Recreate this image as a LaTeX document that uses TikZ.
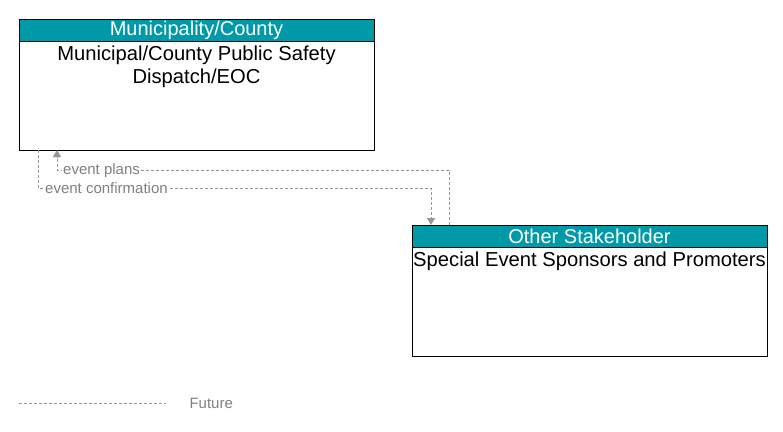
\documentclass[tikz,border=0pt]{standalone}
\usepackage{fontspec}
\setmainfont{Liberation Sans}
\usetikzlibrary{arrows.meta}

\definecolor{headteal}{RGB}{0,153,168}
\definecolor{flowgray}{RGB}{150,150,150}
\definecolor{labelgray}{RGB}{128,128,128}

\tikzset{
	elem/.style={draw=black, line width=1pt, fill=white, minimum width=355pt, minimum height=131pt, inner sep=0pt},
	head/.style={draw=black, line width=1pt, fill=headteal, text=white, minimum width=355pt, minimum height=22pt, inner sep=0pt, font=\fontsize{20}{22}\selectfont},
	body/.style={align=center, inner sep=2pt, font=\fontsize{20.2}{23}\selectfont},
	flow/.style={draw=flowgray, line width=1pt, dash pattern=on 3pt off 2pt},
	tip/.style={-{Triangle[width=8pt,length=7pt]}},
	flowlabel/.style={text=labelgray, fill=white, inner sep=1pt, font=\fontsize{15}{16}\selectfont}
}

\begin{document}
\begin{tikzpicture}[x=1pt, y=-1pt]
	\useasboundingbox (0,0) rectangle (783,431);

	\node (mc) [elem] at (196.5,84.5) {};
	\node (mchead) [head] at (196.5,30.5) {Municipality/County};
	\node (mctext) [body, anchor=north] at (196.5,44) {Municipal/County Public Safety\\Dispatch/EOC};

	\node (sep) [elem] at (589.5,290.5) {};
	\node (sephead) [head] at (589.5,236.5) {Other Stakeholder};
	\node (septext) [body, anchor=north] at (589.5,250) {Special Event Sponsors and Promoters};

	\coordinate (plansa) at (449,225);
	\coordinate (plansb) at (57,150);
	\coordinate (confa) at (38,150);
	\coordinate (confb) at (431,225);

	\draw [flow, tip] (plansa) -- (449,170) -- (57,170) -- (plansb);
	\draw [flow, tip] (confa) -- (38,188) -- (431,188) -- (confb);

	\node (plans) [flowlabel, anchor=west] at (62,170.5) {event plans};
	\node (conf) [flowlabel, anchor=west] at (44,188.5) {event confirmation};

	% legend
	\coordinate (lega) at (19,403);
	\coordinate (legb) at (166,403);
	\draw [flow] (lega) -- (legb);
	\node (future) [text=labelgray, font=\fontsize{15}{16}\selectfont, anchor=west] at (186,403) {Future};
\end{tikzpicture}
\end{document}
